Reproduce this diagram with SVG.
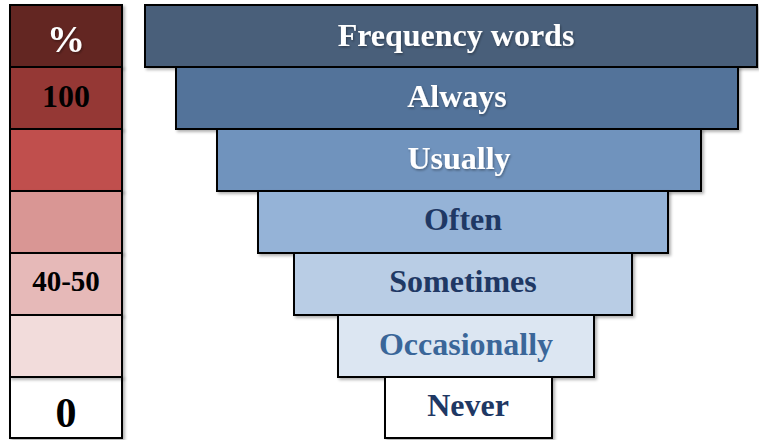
<svg xmlns="http://www.w3.org/2000/svg" width="759" height="440" viewBox="0 0 759 440">
<defs>
<filter id="sh" x="-5%" y="-10%" width="115%" height="130%">
<feDropShadow dx="2" dy="2" stdDeviation="1.5" flood-color="#000" flood-opacity="0.3"/>
</filter>
<filter id="tsh" x="-5%" y="-20%" width="115%" height="150%">
<feDropShadow dx="1" dy="1.5" stdDeviation="1" flood-color="#000" flood-opacity="0.35"/>
</filter>
</defs>
<style>
.box{stroke:#000;stroke-width:2;filter:url(#sh)}
text{font-family:"Liberation Serif","Times New Roman",serif;font-weight:bold;text-anchor:middle}
.w{fill:#fff;filter:url(#tsh)}
.k{fill:#000}
.n{fill:#1f3864}
.m{fill:#3a6699}
.bar{font-size:32px}
</style>
<g id="scale">
<g id="s-pct"><rect class="box" x="10" y="5" width="112" height="62" fill="#632523"/><text class="w" x="66" y="52" font-size="38">%</text></g>
<g id="s-100"><rect class="box" x="10" y="67" width="112" height="62" fill="#953735"/><text class="k" x="66" y="107" font-size="32">100</text></g>
<g id="s-3"><rect class="box" x="10" y="129" width="112" height="62" fill="#c0504d"/></g>
<g id="s-4"><rect class="box" x="10" y="191" width="112" height="62" fill="#d99694"/></g>
<g id="s-4050"><rect class="box" x="10" y="253" width="112" height="62" fill="#e6b9b8"/><text class="k" x="66" y="291" font-size="29">40-50</text></g>
<g id="s-0"><rect class="box" x="10" y="377" width="112" height="61" fill="#ffffff"/><text class="k" x="66" y="427" font-size="42">0</text></g>
<g id="s-6"><rect class="box" x="10" y="315" width="112" height="62" fill="#f2dcdb"/></g>
</g>
<g id="funnel">
<g id="f-header"><rect class="box" x="145" y="5" width="612" height="62" fill="#4a5f7a"/><text class="w bar" x="456" y="46">Frequency words</text></g>
<g id="f-always"><rect class="box" x="176" y="67" width="562" height="62" fill="#52739a"/><text class="w bar" x="457" y="107">Always</text></g>
<g id="f-usually"><rect class="box" x="217" y="129" width="484" height="62" fill="#6f93bd"/><text class="w bar" x="459" y="169">Usually</text></g>
<g id="f-often"><rect class="box" x="258" y="191" width="410" height="62" fill="#95b3d7"/><text class="n bar" x="463" y="230">Often</text></g>
<g id="f-sometimes"><rect class="box" x="294" y="253" width="338" height="62" fill="#b9cde5"/><text class="n bar" x="463" y="292">Sometimes</text></g>
<g id="f-occasionally"><rect class="box" x="338" y="315" width="256" height="62" fill="#dce6f2"/><text class="m bar" x="466" y="355">Occasionally</text></g>
<g id="f-never"><rect class="box" x="385" y="377" width="167" height="61" fill="#ffffff"/><text class="n bar" x="468" y="416">Never</text></g>
</g>
</svg>
